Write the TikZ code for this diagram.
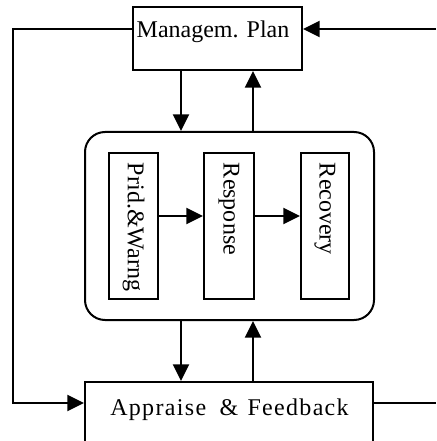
\documentclass[tikz,border=0pt]{standalone}
\usepackage{fontspec}
\setmainfont{Liberation Serif}
\usetikzlibrary{arrows.meta}
\begin{document}
\begin{tikzpicture}[x=0.75pt,y=-0.75pt,
  line width=1.5pt,
  box/.style={draw, rectangle, inner sep=0pt},
  arr/.style={-{Triangle[length=12.5pt,width=12pt]}},
  lbl/.style={inner sep=0pt, font=\fontsize{18}{20}\selectfont},
  vlbl/.style={lbl, rotate=-90, anchor=west}]
\useasboundingbox (0,0) rectangle (436,441);
\clip (0,0) rectangle (436,441);

% boxes
\node[box, minimum width=169*0.75pt, minimum height=63*0.75pt] (plan) at (217.5,38.5) {};
\node[box, rounded corners=15pt, minimum width=289*0.75pt, minimum height=188*0.75pt] (core) at (229.5,226) {};
\node[box, minimum width=49*0.75pt, minimum height=146*0.75pt] (prid) at (133.5,226) {};
\node[box, minimum width=50*0.75pt, minimum height=146*0.75pt] (resp) at (229,226) {};
\node[box, minimum width=48*0.75pt, minimum height=146*0.75pt] (recov) at (325,226) {};
\node[box, minimum width=288*0.75pt, minimum height=78*0.75pt] (appr) at (229,421) {};

% labels
\node[lbl, anchor=base] (plantxt) at (213,38) {Managem. Plan};
\node[lbl, anchor=base] (apprtxt) at (229.5,415)
  {\addfontfeature{LetterSpace=5.5}Appraise\hspace{10pt}\&\hspace{7pt}Feedback};
\node[vlbl] (pridtxt) at (133.5,162) {Prid.\&Warng};
\node[vlbl] (resptxt) at (229,162) {Response};
\node[vlbl] (recovtxt) at (325,162) {Recovery};

% helper coordinates
\coordinate (xa) at (181,0);
\coordinate (xb) at (253,0);
\coordinate (yh) at (0,216);
\coordinate (ltop) at (13,29);
\coordinate (lbot) at (13,403);
\coordinate (rtop) at (436,29);
\coordinate (rbot) at (436,403);

% connectors
\draw[arr] (plan.south -| xa) -- (core.north -| xa);
\draw[arr] (core.north -| xb) -- (plan.south -| xb);
\draw[arr] (core.south -| xa) -- (appr.north -| xa);
\draw[arr] (appr.north -| xb) -- (core.south -| xb);
\draw[arr] (prid.east |- yh) -- (resp.west |- yh);
\draw[arr] (resp.east |- yh) -- (recov.west |- yh);
\draw[arr] (plan.west |- ltop) -- (ltop) -- (lbot) -- (appr.west |- lbot);
\draw[arr] (rtop) -- (plan.east |- rtop);
\draw (appr.east |- rbot) -- (rbot);
\end{tikzpicture}
\end{document}
